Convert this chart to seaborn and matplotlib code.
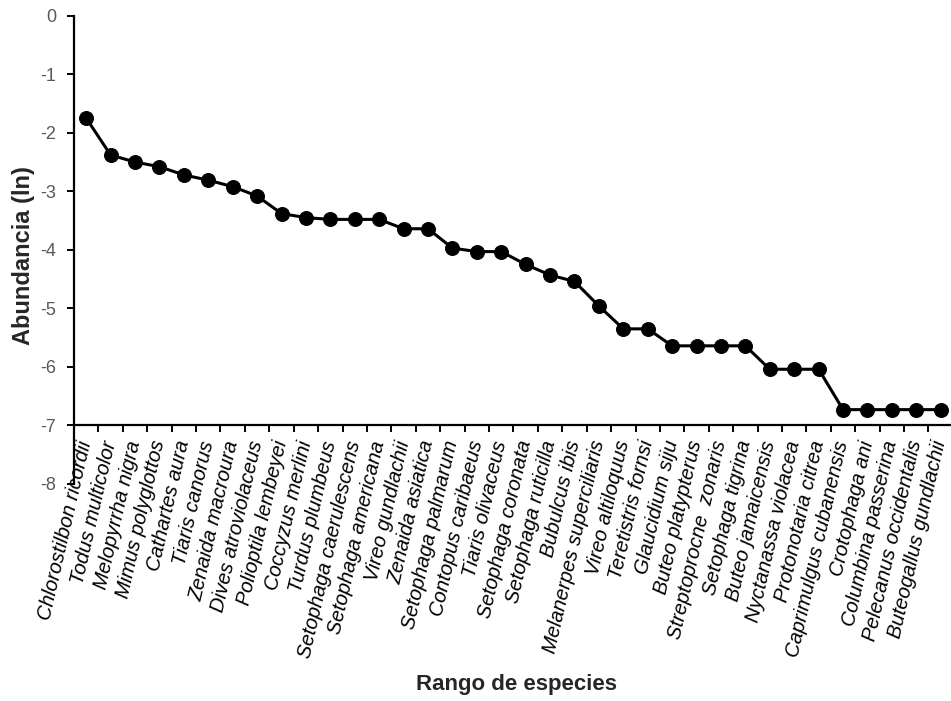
import numpy as np
import pandas as pd
import matplotlib
matplotlib.use("Agg")
import matplotlib.pyplot as plt
import seaborn as sns

SPECIES = [
    "Chlorostilbon ricordii", "Todus multicolor", "Melopyrrha nigra",
    "Mimus polyglottos", "Cathartes aura", "Tiaris canorus",
    "Zenaida macroura", "Dives atroviolaceus", "Polioptila lembeyei",
    "Coccyzus merlini", "Turdus plumbeus", "Setophaga caerulescens",
    "Setophaga americana", "Vireo gundlachii", "Zenaida asiatica",
    "Setophaga palmarum", "Contopus caribaeus", "Tiaris olivaceus",
    "Setophaga coronata", "Setophaga ruticilla", "Bubulcus ibis",
    "Melanerpes superciliaris", "Vireo altiloquus", "Teretistris fornsi",
    "Glaucidium siju", "Buteo platypterus", "Streptoprocne  zonaris",
    "Setophaga tigrina", "Buteo jamaicensis", "Nyctanassa violacea",
    "Protonotaria citrea", "Caprimulgus cubanensis", "Crotophaga ani",
    "Columbina passerina", "Pelecanus occidentalis", "Buteogallus gundlachii",
]
ABUNDANCE_LN = [
    -1.75, -2.38, -2.50, -2.58, -2.72, -2.81,
    -2.92, -3.08, -3.38, -3.45, -3.48, -3.48,
    -3.48, -3.64, -3.64, -3.97, -4.03, -4.03,
    -4.25, -4.43, -4.54, -4.96, -5.35, -5.35,
    -5.64, -5.64, -5.64, -5.64, -6.04, -6.04,
    -6.04, -6.73, -6.73, -6.73, -6.73, -6.73,
]
Y_TICKS = [0, -1, -2, -3, -4, -5, -6, -7, -8]

df = pd.DataFrame({"rank": np.arange(len(SPECIES)), "especie": SPECIES, "ln_abund": ABUNDANCE_LN})

sns.set_theme(style="white")
plt.rcParams["font.family"] = ["Liberation Sans", "DejaVu Sans"]

fig = plt.figure(figsize=(9.51, 7.01), dpi=100)
ax = fig.add_axes([0.0778, 0.3096, 0.9242, 0.668])

sns.lineplot(data=df, x="rank", y="ln_abund", color="black", linewidth=2.2,
             marker="o", markersize=10, markeredgecolor="black", ax=ax, clip_on=False)

ax.set_xlim(-0.5, len(SPECIES) - 0.5)
ax.set_ylim(-8, 0)

# spines first: moving a spine resets the tick labels
for s in ["top", "right"]:
    ax.spines[s].set_visible(False)
ax.spines["bottom"].set_position(("data", -7))
for s in ["left", "bottom"]:
    ax.spines[s].set_color("black")
    ax.spines[s].set_linewidth(1.6)

ax.tick_params(axis="x", which="major", length=0, pad=11)
ax.tick_params(axis="x", which="minor", length=5, width=1.4, color="black", direction="out", bottom=True)
ax.tick_params(axis="y", length=5, width=1.4, color="black", direction="out", left=True, pad=8)

ax.set_yticks(Y_TICKS)
ax.set_yticklabels([str(v) for v in Y_TICKS], fontsize=13, color="#595959")

ax.set_xticks(df["rank"])
ax.set_xticks(np.arange(-0.5, len(SPECIES), 1), minor=True)
ax.set_xticklabels(SPECIES, rotation=77, ha="right", va="center",
                   rotation_mode="anchor", fontsize=14.5, style="italic", color="black")

ax.set_ylabel("Abundancia (ln)", fontsize=17, fontweight="bold")
ax.yaxis.set_label_coords(-0.044, 0.488)
ax.set_xlabel("")
fig.text(0.5436, 0.023, "Rango de especies", fontsize=16, fontweight="bold", ha="center", va="center")

fig.savefig("out.png", dpi=100)
